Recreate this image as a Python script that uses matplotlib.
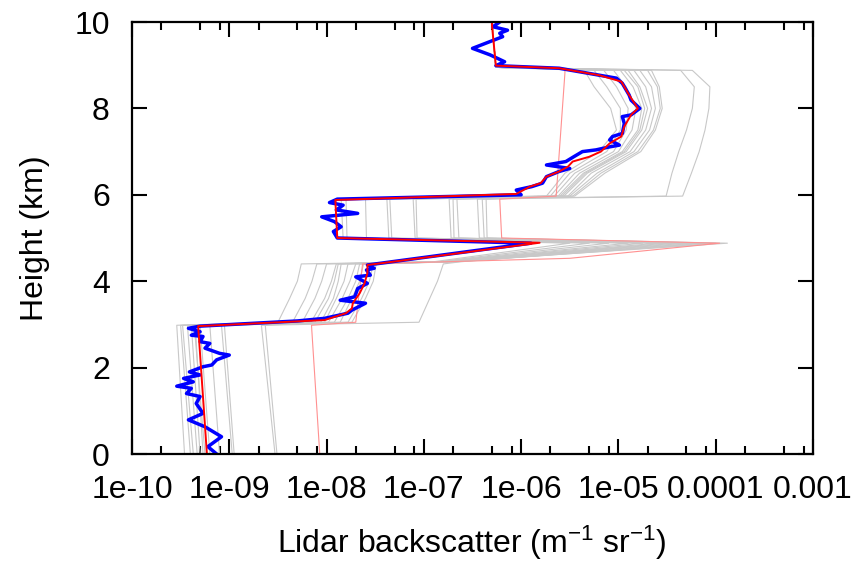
import numpy as np
import matplotlib.pyplot as plt
from matplotlib.ticker import LogLocator, NullFormatter

plt.rcParams['font.family'] = ['Liberation Sans', 'DejaVu Sans']
plt.rcParams['mathtext.fontset'] = 'custom'
plt.rcParams['mathtext.rm'] = 'Liberation Sans'
plt.rcParams['mathtext.it'] = 'Liberation Sans:italic'

# tick labels (gnuplot style)
xtick_vals = [1e-10, 1e-9, 1e-8, 1e-7, 1e-6, 1e-5, 1e-4, 1e-3]
xtick_labels = ['1e-10', '1e-09', '1e-08', '1e-07', '1e-06', '1e-05', '0.0001', '0.001']
ytick_vals = [0, 2, 4, 6, 8, 10]

# ensemble members (grey), log10 of backscatter at these heights (km)
gray_h = [0.0, 2.98, 3.05, 3.6, 4.0, 4.40, 4.45, 4.88, 5.00, 5.90, 5.97,
          6.5, 7.0, 7.5, 8.0, 8.5, 8.88, 8.95, 10.0]
g1 = [-9.46, -9.54, -8.50, -8.38, -8.30, -8.26, -6.90, -5.50, -7.83, -7.85, -5.74, -5.55, -5.20, -5.02, -5.08, -5.25, -5.35, -6.26, -6.30]
g2 = [-9.37, -9.48, -8.35, -8.22, -8.15, -8.10, -6.85, -5.30, -7.79, -7.80, -5.70, -5.50, -5.12, -4.98, -4.98, -5.12, -5.25, -6.26, -6.30]
g3 = [-9.33, -9.43, -8.25, -8.12, -8.05, -8.00, -6.82, -5.10, -7.59, -7.60, -5.66, -5.45, -5.05, -4.92, -4.90, -5.02, -5.15, -6.26, -6.30]
g4 = [-9.30, -9.39, -8.12, -7.98, -7.92, -7.88, -6.80, -4.90, -7.36, -7.38, -5.62, -5.40, -5.00, -4.86, -4.82, -4.92, -5.05, -6.26, -6.30]
g5 = [-9.27, -9.35, -8.06, -7.93, -7.88, -7.85, -6.78, -4.75, -7.33, -7.35, -5.60, -5.36, -4.96, -4.80, -4.76, -4.85, -4.98, -6.26, -6.30]
g6 = [-9.25, -9.36, -7.92, -7.78, -7.70, -7.66, -6.76, -4.60, -7.09, -7.11, -5.56, -5.32, -4.92, -4.76, -4.70, -4.78, -4.90, -6.26, -6.30]
g7 = [-9.20, -9.30, -7.86, -7.74, -7.66, -7.62, -6.74, -4.50, -7.07, -7.08, -5.52, -5.28, -4.88, -4.72, -4.66, -4.72, -4.84, -6.26, -6.30]
g8 = [-8.97, -9.08, -7.78, -7.64, -7.56, -7.52, -6.72, -4.40, -6.72, -6.74, -5.50, -5.22, -4.84, -4.68, -4.62, -4.66, -4.78, -6.26, -6.30]
g9 = [-8.95, -9.05, -7.74, -7.60, -7.52, -7.49, -6.70, -4.30, -6.69, -6.70, -5.47, -5.18, -4.80, -4.64, -4.57, -4.60, -4.70, -6.26, -6.30]
g10 = [-8.53, -8.67, -7.05, -6.94, -6.86, -6.80, -6.62, -4.20, -6.64, -6.66, -4.51, -4.45, -4.38, -4.30, -4.24, -4.22, -4.36, -6.26, -6.30]
g11 = [-8.51, -8.63, -7.98, -7.84, -7.76, -7.70, -6.68, -4.10, -6.43, -6.45, -4.34, -4.25, -4.17, -4.11, -4.07, -4.06, -4.24, -6.26, -6.30]
g12 = [-9.40, -9.50, -8.16, -8.02, -7.95, -7.90, -6.75, -3.88, -6.38, -6.40, -5.58, -5.34, -4.94, -4.78, -4.73, -4.80, -4.94, -6.26, -6.30]
g13 = [-9.10, -9.20, -8.02, -7.90, -7.82, -7.78, -6.66, -4.00, -6.35, -6.36, -5.45, -5.14, -4.77, -4.62, -4.55, -4.58, -4.66, -6.26, -6.30]
gray_members = [g1, g2, g3, g4, g5, g6, g7, g8, g9, g10, g11, g12, g13]

# thin red member
thin_h = [0.0, 2.98, 3.05, 4.40, 4.45, 4.53, 4.88, 5.00, 5.90, 5.97, 8.82, 8.92, 8.97, 10.0]
thin_v = [-8.07, -8.155, -7.70, -7.63, -6.78, -5.50, -3.96, -6.20, -6.22, -5.64, -5.55, -5.55, -6.26, -6.30]

# observation (blue)
blue_h = [0.0, 0.17, 0.40, 0.63, 0.79, 0.94, 1.17, 1.33, 1.40, 1.52, 1.57, 1.67, 1.75, 1.83,
          1.90, 2.02, 2.06, 2.18, 2.29, 2.33, 2.41, 2.45, 2.56, 2.60, 2.72, 2.75, 2.83, 2.91,
          2.96, 3.08, 3.14, 3.26, 3.33, 3.49, 3.56, 3.64, 3.83, 3.95, 4.10, 4.14, 4.26, 4.30,
          4.375, 4.88, 5.00, 5.15, 5.26, 5.38, 5.49, 5.57, 5.65, 5.76, 5.82, 5.90, 6.00, 6.11,
          6.19, 6.27, 6.42, 6.54, 6.61, 6.69, 6.77, 6.88, 7.00, 7.04, 7.11, 7.15, 7.27, 7.35,
          7.42, 7.65, 7.81, 7.85, 8.00, 8.19, 8.31, 8.58, 8.70, 8.77, 8.93, 8.99, 9.08, 9.24,
          9.39, 9.66, 9.74, 9.81, 9.89, 10.0]
blue_v = [-9.13, -9.22, -9.08, -9.25, -9.42, -9.27, -9.34, -9.30, -9.44, -9.39, -9.54, -9.37, -9.47, -9.30,
          -9.41, -9.27, -9.18, -9.13, -9.00, -9.10, -9.20, -9.25, -9.20, -9.30, -9.27, -9.39, -9.30, -9.42,
          -9.30, -8.30, -8.02, -7.78, -7.74, -7.60, -7.86, -7.71, -7.68, -7.58, -7.70, -7.55, -7.59, -7.51,
          -7.58, -5.90, -7.89, -7.93, -7.85, -7.92, -8.05, -7.68, -7.90, -7.83, -7.97, -7.89, -6.00, -6.05,
          -5.89, -5.78, -5.74, -5.61, -5.50, -5.74, -5.54, -5.46, -5.37, -5.23, -5.09, -4.99, -5.09, -5.06,
          -4.96, -4.94, -4.96, -4.87, -4.78, -4.87, -4.89, -4.96, -5.02, -5.20, -5.61, -6.26, -6.17, -6.32,
          -6.50, -6.19, -6.22, -6.14, -6.29, -6.22]

# ensemble mean (thick red)
red_h = [0.0, 2.96, 3.10, 3.26, 3.37, 3.49, 3.72, 3.95, 4.19, 4.375, 4.89, 5.00, 5.88, 6.02,
         6.19, 6.27, 6.42, 6.54, 6.65, 6.77, 6.88, 7.00, 7.19, 7.35, 7.58, 7.85, 8.00, 8.31,
         8.62, 8.77, 8.93, 8.99, 9.93, 10.0]
red_v = [-9.23, -9.32, -8.02, -7.80, -7.74, -7.73, -7.66, -7.61, -7.58, -7.58, -5.81, -7.89, -7.91, -6.05,
         -5.91, -5.80, -5.74, -5.61, -5.52, -5.47, -5.30, -5.18, -5.09, -4.97, -4.94, -4.87, -4.80, -4.89,
         -4.97, -5.20, -5.61, -6.26, -6.30, -6.30]

fig = plt.figure(figsize=(8.56, 5.63), dpi=100)
ax = fig.add_axes([132 / 856, 1 - 454 / 563, 681 / 856, 432 / 563])

for m in gray_members:
    ax.plot(10 ** np.array(m), gray_h, color='#c8c8c8', lw=0.8)
ax.plot(10 ** np.array(thin_v), thin_h, color='#ff9090', lw=0.8)
ax.plot(10 ** np.array(blue_v), blue_h, color='#0000ff', lw=2.5)
ax.plot(10 ** np.array(red_v), red_h, color='#ff0000', lw=1.4)

ax.set_xscale('log')
ax.set_xlim(1e-10, 1e-3)
ax.set_ylim(0, 10)
ax.set_xticks(xtick_vals)
ax.set_xticklabels(xtick_labels)
ax.xaxis.set_minor_locator(LogLocator(base=10, subs=(2, 5, 8), numticks=20))
ax.xaxis.set_minor_formatter(NullFormatter())
ax.set_yticks(ytick_vals)
ax.set_yticklabels([str(v) for v in ytick_vals])

for s in ax.spines.values():
    s.set_linewidth(1.6)
ax.tick_params(which='both', direction='in', top=True, right=True, width=1.5)
ax.tick_params(which='major', length=11, labelsize=23)
ax.tick_params(axis='x', which='major', pad=15)
ax.tick_params(axis='y', which='major', pad=16)
ax.tick_params(which='minor', length=5.5)

fig.text(472 / 856, 1 - 543 / 563, r'Lidar backscatter (m$^{-1}$ sr$^{-1}$)',
         ha='center', va='center', fontsize=23)
fig.text(35 / 856, 1 - 238 / 563, 'Height (km)', rotation=90,
         ha='center', va='center', fontsize=23)

fig.savefig('out.png', dpi=100)
